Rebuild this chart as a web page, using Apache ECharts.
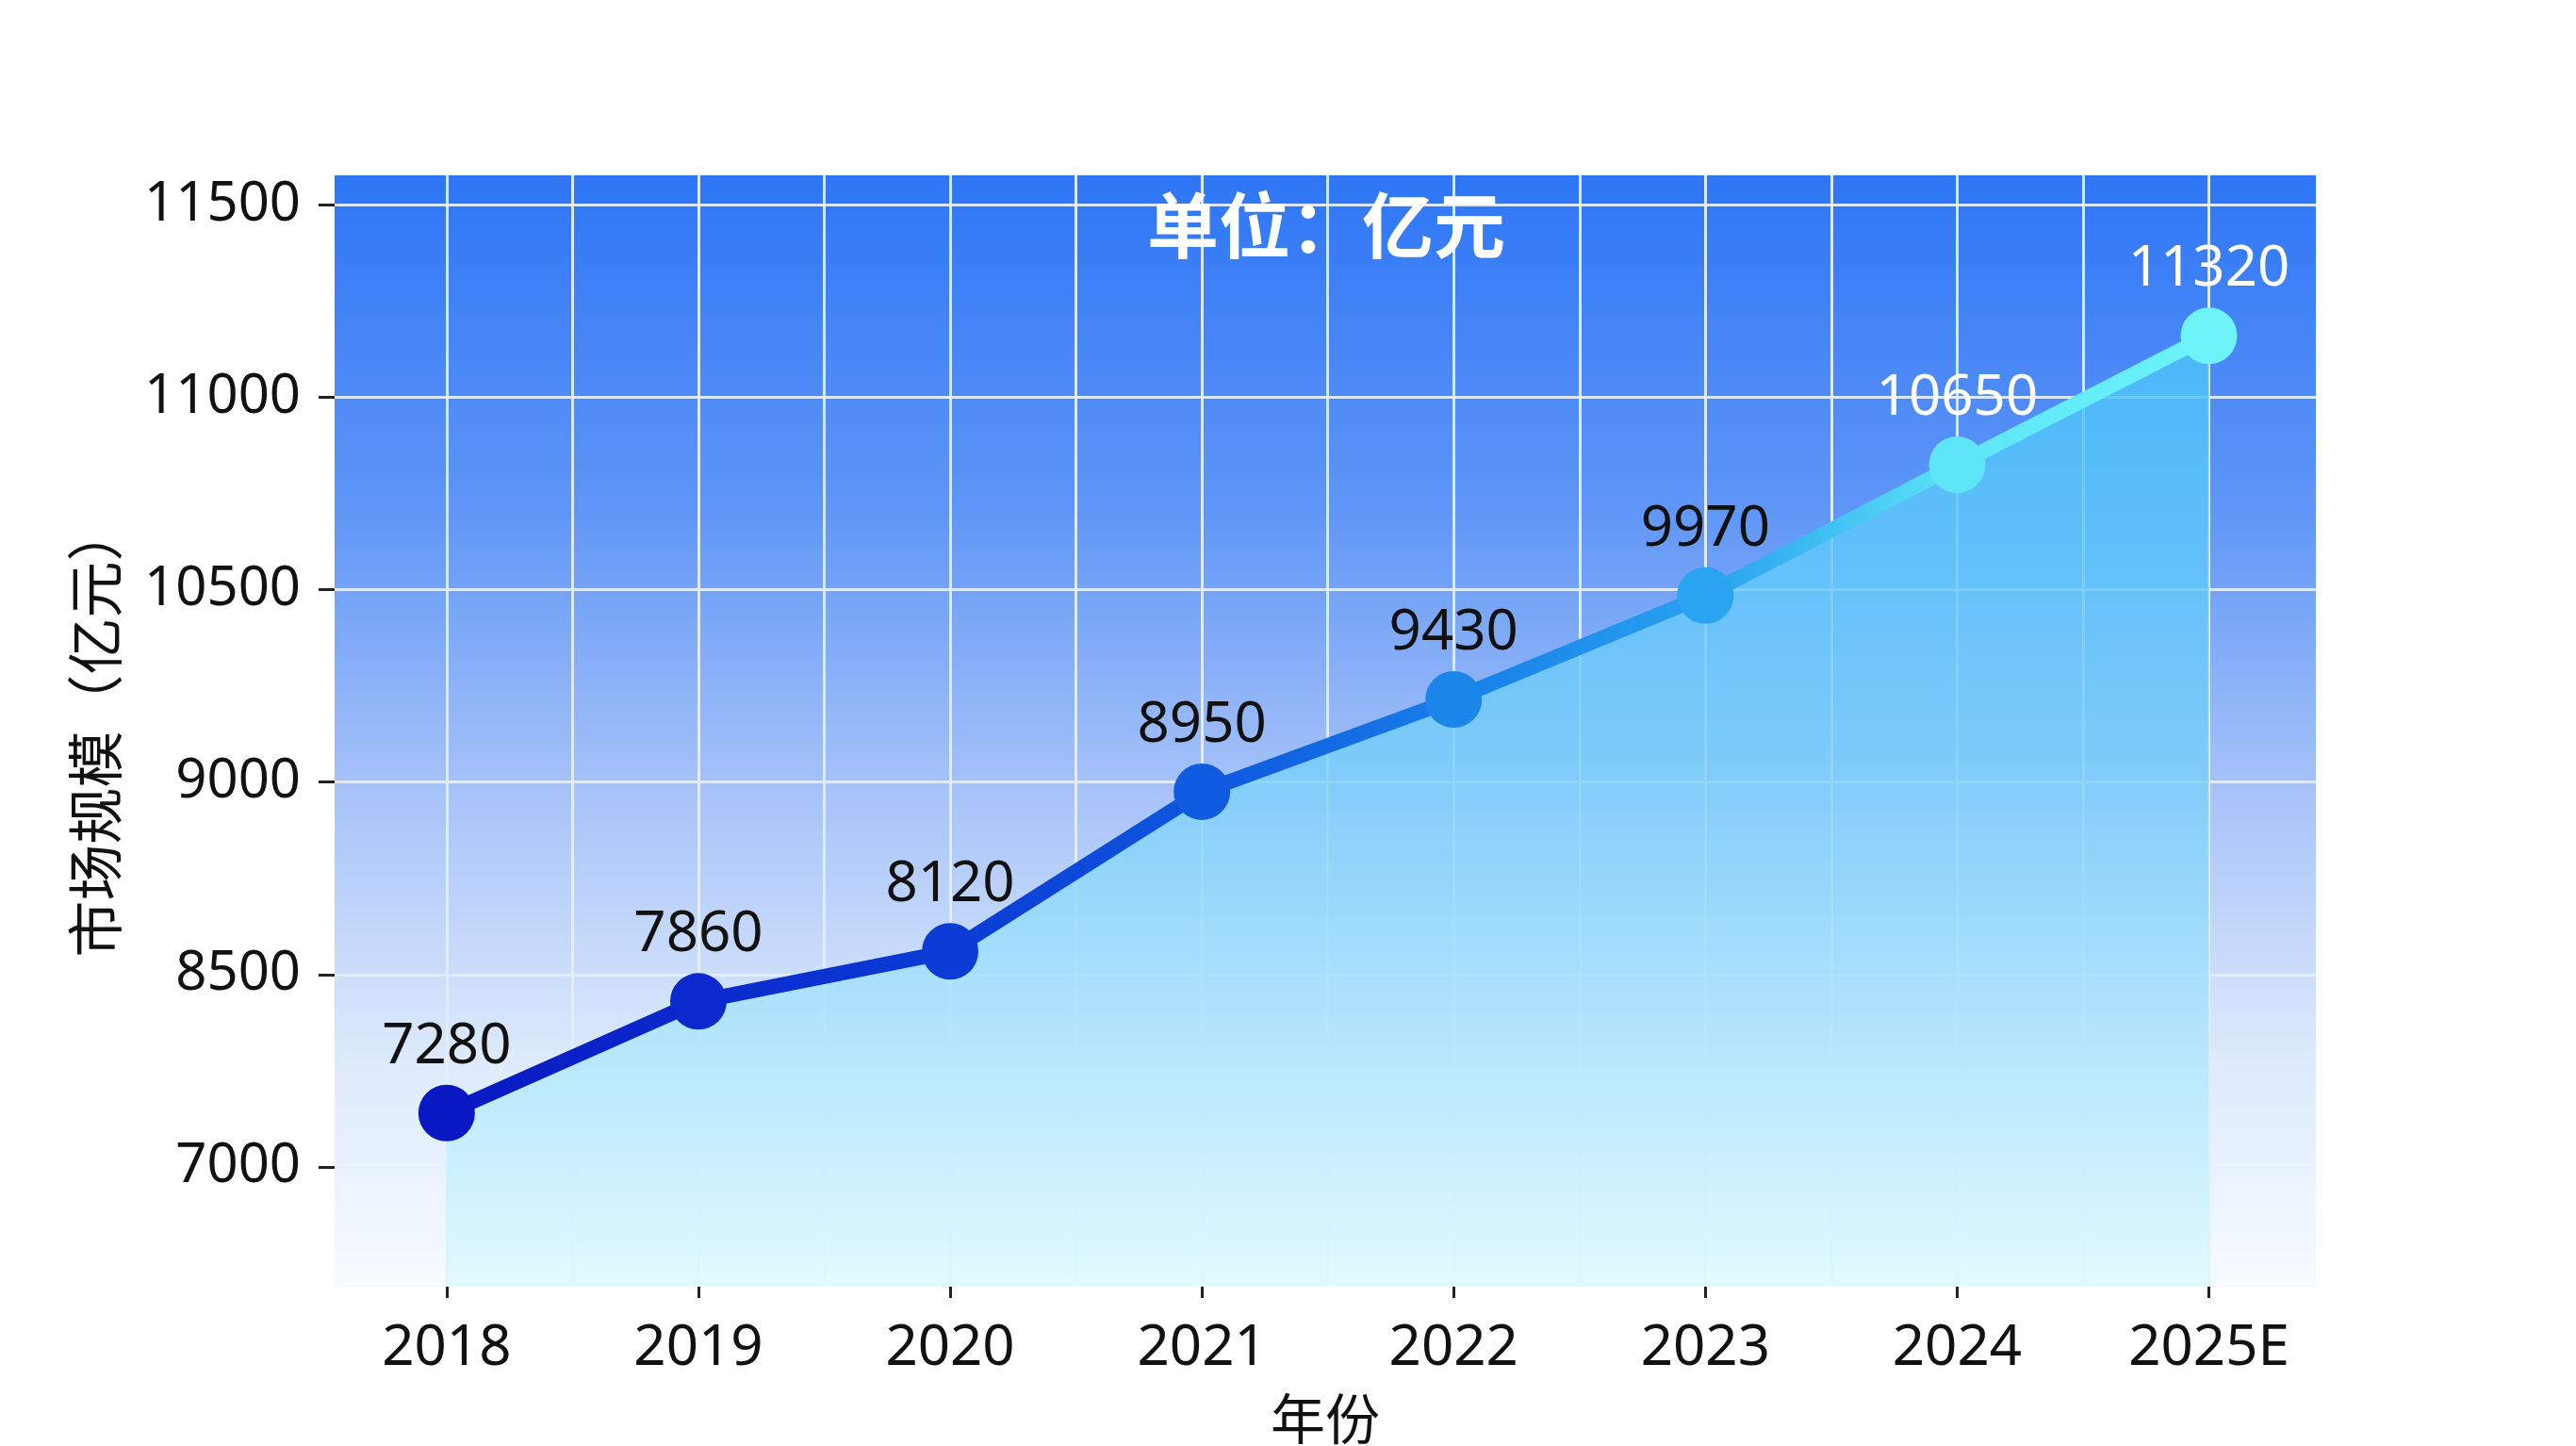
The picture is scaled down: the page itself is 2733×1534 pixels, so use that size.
<!DOCTYPE html>
<html><head><meta charset="utf-8">
<script src="https://cdn.jsdelivr.net/npm/echarts@6/dist/echarts.min.js"></script>
<style>html,body{margin:0;padding:0;background:#fefefe}#c{width:2733px;height:1534px}</style>
</head><body><div id="c"></div>
<script>
const categories = ['2018','2019','2020','2021','2022','2023','2024','2025E'];
const marketSize = [7280, 7860, 8120, 8950, 9430, 9970, 10650, 11320];
const yTickValues = [7000, 8000, 9000, 10000, 11000, 12000];
const yTickLabels = ['7000', '8500', '9000', '10500', '11000', '11500'];
const pointColors = ['#0818c2','#0a2acd','#0b3dd6','#0f5ce0','#1a86ea','#2aa3f0','#5ee6f8','#6cf4f8'];

const FONT = '"Noto Sans", "Noto Sans CJK SC", sans-serif';
const xIdx = categories.map((c, i) => i);
const vGrid = [];
categories.forEach((c, i) => { vGrid.push(i); if (i < categories.length - 1) vGrid.push(i + 0.5); });
const xMin = -0.445, xMax = 7.425, yMin = 6377, yMax = 12154;

const chart = echarts.init(document.getElementById('c'), null, {renderer: 'canvas'});
chart.setOption({
  backgroundColor: '#fefefe',
  animation: false,
  title: {
    text: '单位：亿元',
    left: 1212, top: 196,
    textStyle: {color: '#ffffff', fontSize: 76, fontWeight: 'bold', fontFamily: '"Noto Sans CJK SC", sans-serif'}
  },
  grid: {
    left: 355, right: 276, top: 186, bottom: 169,
    outerBoundsMode: 'none', containLabel: false,
    show: true, borderWidth: 0,
    backgroundColor: new echarts.graphic.LinearGradient(0, 0, 0, 1, [
      {offset: 0, color: '#2e76f6'},
      {offset: 0.3, color: '#5f96f6'},
      {offset: 0.55, color: '#a6c2f8'},
      {offset: 0.8, color: '#deebfc'},
      {offset: 1, color: '#f6fbff'}
    ])
  },
  xAxis: [{
    type: 'value', min: xMin, max: xMax, position: 'bottom',
    axisLine: {show: false, onZero: false},
    axisTick: {show: false, customValues: vGrid},
    axisLabel: {show: false},
    splitLine: {show: true, lineStyle: {color: 'rgba(225,238,253,0.95)', width: 3}}
  }, {
    type: 'value', min: xMin, max: xMax, position: 'bottom',
    name: '年份', nameLocation: 'middle', nameGap: 116,
    nameTextStyle: {color: '#111', fontSize: 58, fontFamily: FONT},
    axisLine: {show: false, onZero: false},
    axisTick: {show: true, customValues: xIdx, length: 12, lineStyle: {color: '#222', width: 3}},
    axisLabel: {customValues: xIdx, margin: 36, color: '#111', fontSize: 60, fontFamily: FONT,
      formatter: v => categories[Math.round(v)]},
    splitLine: {show: false}
  }],
  yAxis: {
    type: 'value', min: yMin, max: yMax,
    name: '市场规模（亿元）', nameLocation: 'middle', nameRotate: 90, nameGap: 218,
    nameTextStyle: {color: '#111', fontSize: 60, fontFamily: FONT},
    axisLine: {show: false, onZero: false},
    axisTick: {show: true, customValues: yTickValues, length: 17, lineStyle: {color: '#222', width: 3}},
    axisLabel: {customValues: yTickValues, margin: 36, color: '#111', fontSize: 58, fontFamily: FONT,
      formatter: v => yTickLabels[yTickValues.indexOf(v)]},
    splitLine: {show: true, lineStyle: {color: 'rgba(225,238,253,0.95)', width: 3}}
  },
  series: [{
    type: 'line',
    xAxisIndex: 1,
    data: marketSize.map((v, i) => ({
      value: [i, v],
      itemStyle: {color: pointColors[i]},
      label: {color: i >= 6 ? '#ffffff' : '#111111'}
    })),
    symbol: 'circle', symbolSize: 60,
    lineStyle: {width: 16, color: new echarts.graphic.LinearGradient(0, 0, 1, 0, [
      {offset: 0, color: '#0818c2'},
      {offset: 0.3, color: '#0b3dd6'},
      {offset: 0.45, color: '#0f5ce0'},
      {offset: 0.6, color: '#1a86ea'},
      {offset: 0.72, color: '#2aa3f0'},
      {offset: 0.86, color: '#5ee6f8'},
      {offset: 1, color: '#6cf4f8'}
    ])},
    areaStyle: {opacity: 1, color: new echarts.graphic.LinearGradient(0, 0, 0, 1, [
      {offset: 0, color: 'rgba(74,192,250,0.85)'},
      {offset: 0.45, color: 'rgba(118,206,250,0.8)'},
      {offset: 1, color: 'rgba(222,250,255,0.85)'}
    ])},
    label: {show: true, position: 'top', distance: 10, fontSize: 60, fontFamily: FONT,
      formatter: p => String(p.value[1])},
    z: 3
  }]
});
</script></body></html>
